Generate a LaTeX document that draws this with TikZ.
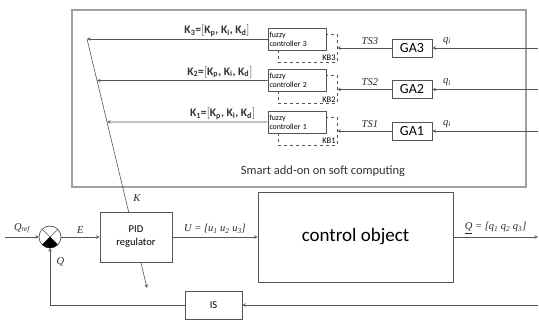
\documentclass[tikz,border=0pt]{standalone}
\usepackage{fontspec}
\setsansfont{Carlito}
\setmainfont{Liberation Serif}
\usetikzlibrary{calc}
\definecolor{LineGray}{RGB}{85,85,85}
\definecolor{FrameGray}{RGB}{160,160,160}

\begin{document}
\begin{tikzpicture}[x=1pt, y=-1pt,
    block/.style={draw=LineGray, line width=0.7pt, fill=white, font=\sffamily, align=center, inner sep=1pt},
    fuzzy/.style={draw=LineGray, line width=0.6pt, fill=white, minimum width=58pt, minimum height=22pt, text width=55pt, inner sep=1.5pt, align=left, font=\sffamily\fontsize{7.8}{9}\selectfont},
    kbase/.style={draw=LineGray, line width=0.6pt, dashed, minimum width=59pt, minimum height=28pt},
    ga/.style={block, minimum width=40pt, minimum height=18pt, font=\sffamily\fontsize{14}{14}\selectfont},
    sig/.style={->, >=stealth, LineGray, line width=0.6pt},
    sym/.style={font=\itshape\fontsize{10.5}{11}\selectfont, text=black!85},
    klbl/.style={font=\sffamily\bfseries\fontsize{11.5}{12}\selectfont, text=black!80, inner sep=2pt}
  ]
  \useasboundingbox (0,0) rectangle (539,320);

  % Smart add-on frame
  \node[draw=FrameGray, line width=1.2pt, minimum width=454pt, minimum height=177pt] (addon) at (299,98.5) {};
  \node[font=\sffamily\fontsize{12.5}{13}\selectfont, text=black!80] (addonlbl) at (323,171) {Smart add-on on soft computing};

  % Knowledge bases and fuzzy controllers
  \node[kbase] (kb3) at (307.5,48) {};
  \node[kbase] (kb2) at (307.5,89.5) {};
  \node[kbase] (kb1) at (307.5,131) {};
  \node[anchor=south east, inner sep=1.5pt, font=\sffamily\fontsize{8.5}{8.5}\selectfont] (kb3lbl) at (kb3.south east) {KB3};
  \node[anchor=south east, inner sep=1.5pt, font=\sffamily\fontsize{8.5}{8.5}\selectfont] (kb2lbl) at (kb2.south east) {KB2};
  \node[anchor=south east, inner sep=1.5pt, font=\sffamily\fontsize{8.5}{8.5}\selectfont] (kb1lbl) at (kb1.south east) {KB1};
  \node[fuzzy] (fc3) at (297,39) {fuzzy\\controller 3};
  \node[fuzzy] (fc2) at (297,80.5) {fuzzy\\controller 2};
  \node[fuzzy] (fc1) at (297,122) {fuzzy\\controller 1};

  % Genetic algorithms
  \node[ga] (ga3) at (412,48) {GA3};
  \node[ga] (ga2) at (412,89.5) {GA2};
  \node[ga] (ga1) at (412,131) {GA1};

  % q_i inputs
  \coordinate (qi3) at (538,48);
  \coordinate (qi2) at (538,89.5);
  \coordinate (qi1) at (538,131);
  \draw[sig] (qi3) -- node[sym, pos=0.86, above] {q\textsubscript{i}} (ga3.east);
  \draw[sig] (qi2) -- node[sym, pos=0.86, above] {q\textsubscript{i}} (ga2.east);
  \draw[sig] (qi1) -- node[sym, pos=0.86, above] {q\textsubscript{i}} (ga1.east);

  % Training sets
  \draw[sig] (ga3.west) -- node[sym, above, pos=0.4] {TS3} (kb3.east);
  \draw[sig] (ga2.west) -- node[sym, above, pos=0.4] {TS2} (kb2.east);
  \draw[sig] (ga1.west) -- node[sym, above, pos=0.4] {TS1} (kb1.east);

  % Parameter line through the regulator
  \coordinate (ktop) at (87,39);
  \coordinate (kbot) at (147,288);
  \coordinate (k2) at ($(ktop)!0.1667!(kbot)$);
  \coordinate (k1) at ($(ktop)!0.3333!(kbot)$);
  \draw[sig] (ktop) -- (kbot);
  \node[sym] (klbl) at (137,198) {K};

  % Coefficient outputs
  \draw[sig] (fc3.west) -- node[klbl, pos=0.28, above] {K\textsubscript{3}=$\bigl[$K\textsubscript{p}, K\textsubscript{i}, K\textsubscript{d}$\bigr]$} (ktop);
  \draw[sig] (fc2.west) -- node[klbl, pos=0.28, above] {K\textsubscript{2}=$\bigl[$K\textsubscript{p}, K\textsubscript{i}, K\textsubscript{d}$\bigr]$} (k2);
  \draw[sig] (fc1.west) -- node[klbl, pos=0.28, above] {K\textsubscript{1}=$\bigl[$K\textsubscript{p}, K\textsubscript{i}, K\textsubscript{d}$\bigr]$} (k1);

  % Control loop
  \node[circle, draw=LineGray, line width=0.7pt, fill=white, minimum size=22pt, inner sep=0pt, outer sep=0pt] (sum) at (50,237) {};
  \draw[LineGray, line width=0.6pt] (sum.north west) -- (sum.south east) (sum.north east) -- (sum.south west);
  \fill[black] (sum.center) -- ++(225:11pt) arc[start angle=225, end angle=315, radius=11pt] -- cycle;
  \node[block, minimum width=72pt, minimum height=50pt, font=\sffamily\fontsize{10.5}{13}\selectfont] (pid) at (136,237) {PID\\regulator};
  \node[block, minimum width=195pt, minimum height=90pt, font=\sffamily\fontsize{19}{20}\selectfont] (obj) at (355.5,237) {control object};
  \node[block, minimum width=57pt, minimum height=28pt, font=\sffamily\fontsize{10.5}{12}\selectfont] (is) at (213.5,305) {IS};

  \coordinate (qin) at (5,237);
  \coordinate (qout) at (538,237);
  \coordinate (fbin) at (538,305);
  \draw[sig] (qin) -- node[sym, above] {Q\textsubscript{ref}} (sum.west);
  \draw[sig] (sum.east) -- node[sym, above] {E} (pid.west);
  \draw[sig] (pid.east) -- node[sym, above] {U = [u\textsubscript{1} u\textsubscript{2} u\textsubscript{3}]} (obj.west);
  \draw[sig] (obj.east) -- node[sym, above] {\underline{Q} = [q\textsubscript{1} q\textsubscript{2} q\textsubscript{3}]} (qout);
  \draw[sig] (fbin) -- (is.east);
  \draw[sig] (is.west) -| node[sym, pos=0.875, right=3pt] {Q} (sum.south);
\end{tikzpicture}
\end{document}
